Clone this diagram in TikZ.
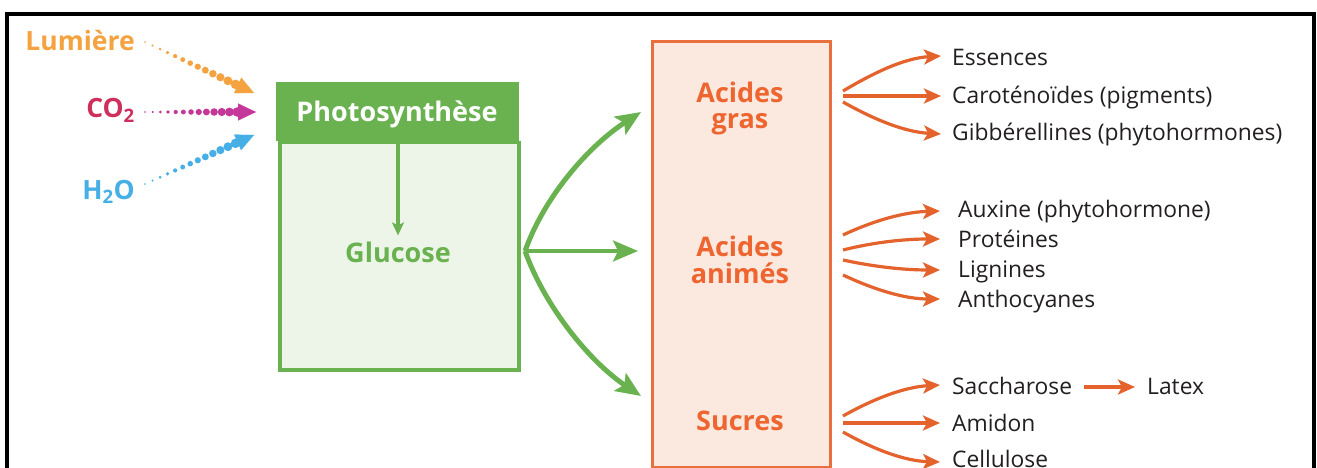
\documentclass[tikz,border=0pt]{standalone}
\usepackage{fontspec}
\setmainfont{Open Sans}
\usetikzlibrary{arrows.meta,calc}
\definecolor{gr}{HTML}{69B24F}
\definecolor{grl}{HTML}{ECF5E8}
\definecolor{orb}{HTML}{E8703C}
\definecolor{orf}{HTML}{FBE9E0}
\definecolor{ort}{HTML}{EE6530}
\definecolor{ora}{HTML}{E4622C}
\definecolor{lumc}{HTML}{F4A340}
\definecolor{coc}{HTML}{CE2F5C}
\definecolor{coa}{HTML}{C4389A}
\definecolor{hhc}{HTML}{46B0E6}
\definecolor{txt}{HTML}{231F20}
\newcommand\dotarr[3]{%
  \foreach \k in {0,...,12}{\fill[#1] ($(#2)!{\k/12*0.83}!(#3)$) circle ({0.8+\k*0.33});}
  \draw[#1, line width=0.1pt, -{Triangle[length=18pt,width=17pt]}] ($(#2)!0.83!(#3)$) -- (#3);}
\begin{document}
\begin{tikzpicture}[x=1pt,y=-1pt,
  lbl/.style={anchor=base west, text=txt, font=\fontsize{22.8}{26}\selectfont, inner sep=0},
  ttl/.style={font=\bfseries\fontsize{27}{27}\selectfont, align=center, text=ort, inner sep=0, anchor=base},
  inp/.style={font=\bfseries\fontsize{26.5}{28}\selectfont, inner sep=0, anchor=base east},
  oarr/.style={draw=ora, line width=3.2pt, -{Stealth[length=17pt,width=15pt,inset=4pt]}},
  garr/.style={draw=gr, line width=5pt, -{Stealth[length=25pt,width=21pt,inset=5pt]}}]
\useasboundingbox (0,0) rectangle (1317,468);
\fill[white] (0,0) rectangle (1317,468);
% frame
\draw[line width=3.2pt] (7,470) -- (7,14) -- (1314,14) -- (1314,470);
% inputs
\node[inp, text=lumc] (lum) at (135,51) {Lumière};
\node[inp, text=coc] (co) at (135,118) {CO\textsubscript{2}};
\node[inp, text=hhc] (hh) at (135,199) {H\textsubscript{2}O};
\coordinate (lumS) at (145,42);  \coordinate (lumE) at (254,93);
\coordinate (coS) at (145,112);  \coordinate (coE) at (256,112);
\coordinate (hhS) at (145,184);  \coordinate (hhE) at (254,135);
\dotarr{lumc}{lumS}{lumE}
\dotarr{coa}{coS}{coE}
\dotarr{hhc}{hhS}{hhE}
% green box
\node[draw=gr, fill=grl, line width=3.5pt, minimum width=239pt, minimum height=227pt, anchor=north west, inner sep=0] (gbox) at (278,141) {};
\node[fill=gr, minimum width=242.5pt, minimum height=59pt, anchor=north west, inner sep=0] (photo) at (276.25,82) {};
\node[font=\bfseries\fontsize{27}{28}\selectfont, text=white, anchor=base, inner sep=0] (photot) at (397,122) {Photosynthèse};
\node[font=\bfseries\fontsize{27}{28}\selectfont, text=gr, anchor=base, inner sep=0] (glu) at (398,262) {Glucose};
\draw[draw=gr, line width=3.5pt, -{Stealth[length=13pt,width=12pt,inset=3pt]}] (photo.south -| glu) -- ++(0,94);
% orange box
\node[draw=orb, fill=orf, line width=3pt, minimum width=178pt, minimum height=426pt, anchor=north west, inner sep=0] (obox) at (651,40) {};
\node[ttl] (ag) at (740,129) {Acides\\gras};
\node[ttl] (aa) at (740,283) {Acides\\animés};
\node[ttl] (su) at (740,430) {Sucres};
% green arrows
\coordinate (gs) at (525,251);
\coordinate (g1) at (641,112);
\coordinate (g2) at (638,251);
\coordinate (g3) at (641,396);
\draw[garr] (gs) .. controls (545,195) and (590,145) .. (g1);
\draw[garr, line width=3.5pt] (gs) -- (g2);
\draw[garr] (gs) .. controls (545,307) and (590,362) .. (g3);
% products group 1
\node[lbl] (e1) at (952,66) {Essences};
\node[lbl] (e2) at (952,104) {Caroténoïdes (pigments)};
\node[lbl] (e3) at (952,141) {Gibbérellines (phytohormones)};
\coordinate (s11) at (843,91); \coordinate (s12) at (843,96); \coordinate (s13) at (843,102);
\coordinate (t11) at (941,56); \coordinate (t12) at (941,96); \coordinate (t13) at (941,134);
\draw[oarr] (s11) .. controls (875,72) and (905,58) .. (t11);
\draw[oarr] (s12) -- (t12);
\draw[oarr] (s13) .. controls (875,120) and (905,132) .. (t13);
% group 2
\node[lbl] (f1) at (958,217) {Auxine (phytohormone)};
\node[lbl] (f2) at (958,247) {Protéines};
\node[lbl] (f3) at (958,277) {Lignines};
\node[lbl] (f4) at (958,307) {Anthocyanes};
\coordinate (s21) at (843,235); \coordinate (s22) at (843,250); \coordinate (s23) at (843,260); \coordinate (s24) at (843,275);
\coordinate (t21) at (940,211); \coordinate (t22) at (940,239); \coordinate (t23) at (940,270); \coordinate (t24) at (940,299);
\draw[oarr] (s21) .. controls (875,220) and (905,212) .. (t21);
\draw[oarr] (s22) .. controls (875,242) and (905,239) .. (t22);
\draw[oarr] (s23) .. controls (875,267) and (905,270) .. (t23);
\draw[oarr] (s24) .. controls (875,290) and (905,299) .. (t24);
% group 3
\node[lbl] (h1) at (952,394) {Saccharose};
\node[lbl] (h2) at (952,431) {Amidon};
\node[lbl] (h3) at (952,467) {Cellulose};
\node[lbl] (lat) at (1147,394) {Latex};
\coordinate (s31) at (843,416); \coordinate (s32) at (843,423); \coordinate (s33) at (843,432);
\coordinate (t31) at (940,385); \coordinate (t32) at (940,423); \coordinate (t33) at (940,462);
\draw[oarr] (s31) .. controls (875,398) and (905,387) .. (t31);
\draw[oarr] (s32) -- (t32);
\draw[oarr] (s33) .. controls (875,450) and (905,461) .. (t33);
\draw[oarr] ([xshift=12pt]h1.east |- 0,387) -- ([xshift=-12pt]lat.west |- 0,387);
\end{tikzpicture}
\end{document}
